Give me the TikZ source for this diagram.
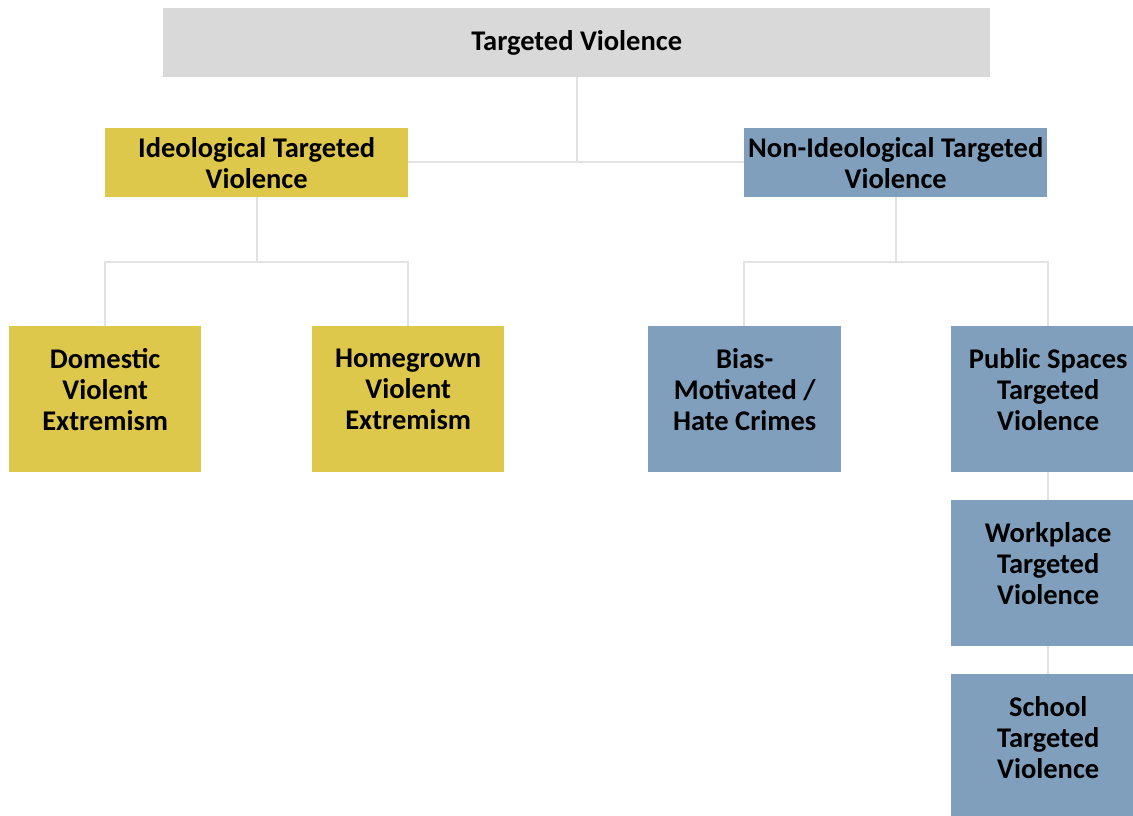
\documentclass[tikz,border=0pt]{standalone}
\usepackage{fontspec}
\setmainfont{Carlito}
\definecolor{topgray}{HTML}{D9D9D9}
\definecolor{ideo}{HTML}{DEC84B}
\definecolor{nonideo}{HTML}{809FBD}
\definecolor{linkgray}{HTML}{E2E2E2}
\begin{document}
\begin{tikzpicture}[x=1pt,y=-1pt,
  box/.style={anchor=north west, inner sep=0pt, align=center,
    font=\fontsize{28.5}{31}\selectfont\bfseries},
  tall/.style={text depth=20pt},
  link/.style={draw=linkgray, line width=2pt}]
\useasboundingbox (0,0) rectangle (1133,816);
\fill[white] (0,0) rectangle (1133,816);
% boxes
\node[box, fill=topgray, minimum width=827pt, minimum height=69pt] (top) at (163,8) {Targeted Violence};
\node[box, fill=ideo, minimum width=303pt, minimum height=69pt] (ideo) at (105,128) {Ideological Targeted\\Violence};
\node[box, fill=nonideo, minimum width=303pt, minimum height=69pt] (non) at (744,128) {Non-Ideological Targeted\\Violence};
\node[box, tall, fill=ideo, minimum width=192pt, minimum height=146pt] (dom) at (9,326) {Domestic\\Violent\\Extremism};
\node[box, tall, fill=ideo, minimum width=192pt, minimum height=146pt] (home) at (312,326) {Homegrown\\Violent\\Extremism};
\node[box, tall, fill=nonideo, minimum width=193pt, minimum height=146pt] (bias) at (648,326) {Bias-\\Motivated /\\Hate Crimes};
\node[box, tall, fill=nonideo, minimum width=194pt, minimum height=146pt] (pub) at (951,326) {Public Spaces\\Targeted\\Violence};
\node[box, tall, fill=nonideo, minimum width=194pt, minimum height=146pt] (work) at (951,500) {Workplace\\Targeted\\Violence};
\node[box, tall, fill=nonideo, minimum width=194pt, minimum height=146pt] (school) at (951,674) {School\\Targeted\\Violence};
% connectors
\coordinate (j1) at (577,162);
\draw[link] (top.south -| j1) -- (j1);
\draw[link] (ideo.east |- j1) -- (non.west |- j1);
\coordinate (j2) at (257,262);
\draw[link] (ideo.south) -- (ideo.south |- j2);
\draw[link] (dom.north) -- (dom.north |- j2) -- (home.north |- j2) -- (home.north);
\coordinate (j3) at (896,262);
\draw[link] (non.south) -- (non.south |- j3);
\draw[link] ([xshift=-1pt]bias.north) -- ([xshift=-1pt]bias.north |- j3) -- (1048,262) -- (1048,326);
\draw[link] (pub.south -| 1048,0) -- (work.north -| 1048,0);
\draw[link] (work.south -| 1048,0) -- (school.north -| 1048,0);
\end{tikzpicture}
\end{document}
